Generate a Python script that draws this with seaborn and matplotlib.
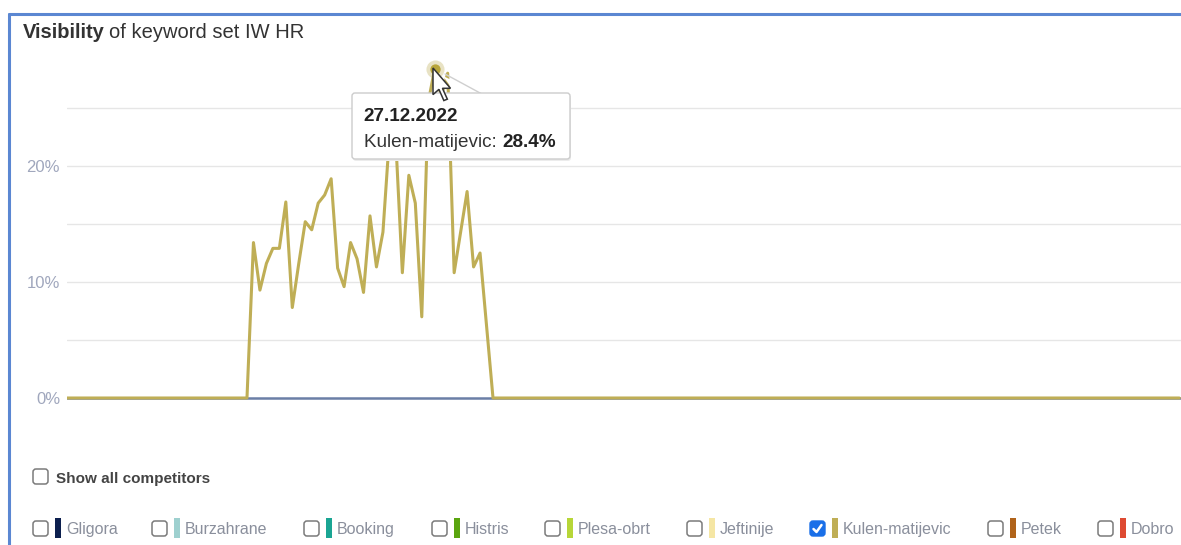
import pandas as pd
import matplotlib.pyplot as plt
import seaborn as sns
from matplotlib.transforms import Affine2D
from matplotlib.patches import FancyBboxPatch, Polygon, Rectangle
from matplotlib.lines import Line2D

# --- data (visibility in %) ---
start_date = '2022-10-31'
lead_zeros = [0.0] * 28
active_values = [0.0, 13.4, 9.3, 11.6, 12.9, 12.9, 16.9, 7.8, 11.6, 15.2,
                 14.5, 16.8, 17.5, 18.9, 11.2, 9.6, 13.4, 12.0, 9.1, 15.7,
                 11.3, 14.3, 22.5, 22.0, 10.8, 19.2, 16.8, 7.0, 25.5, 28.4,
                 26.0, 28.0, 10.8, 14.3, 17.8, 11.3, 12.5, 6.2, 0.0]
trail_zeros = [0.0] * 106
highlight_date = '2022-12-27'

yticks_major = [0, 10, 20]
yticks_grid = [5, 15, 25]

competitors = ['Gligora', 'Burzahrane', 'Booking', 'Histris', 'Plesa-obrt',
               'Jeftinije', 'Kulen-matijevic', 'Petek', 'Dobro']
comp_colors = ['#0c1f4e', '#9ed0cf', '#1aa593', '#5aa50f', '#b7d638',
               '#f5e6a4', '#bfae56', '#b0631a', '#de4a32']
comp_checked = [False, False, False, False, False, False, True, False, False]
legend_x = [33, 152, 304, 432, 545, 687, 810, 988, 1098]  # layout only

values = lead_zeros + active_values + trail_zeros
df = pd.DataFrame({'date': pd.date_range(start_date, periods=len(values), freq='D'),
                   'visibility': values})

GOLD = '#bfae56'
W, H = 1181, 545

sns.set_theme(style='white')
plt.rcParams['font.family'] = ['Liberation Sans', 'DejaVu Sans']

fig = plt.figure(figsize=(W / 100, H / 100), dpi=100)
# pixel coordinates, y measured from the top
px = Affine2D().scale(1 / 100, -1 / 100).translate(0, H / 100) + fig.dpi_scale_trans

# axes placed in pixels: x 67..1181, 0% at y=398, 11.6 px per %
ax_left, ax_right, ax_top = 67, W, 60
y0_px, ppu = 398, 11.6
ymin = -1.0
ymax = (y0_px - ax_top) / ppu
ax_bottom = y0_px - ymin * ppu
ax = fig.add_axes([ax_left / W, 1 - ax_bottom / H, (ax_right - ax_left) / W, (ax_bottom - ax_top) / H])

ax.axhline(0, color='#6b7fa6', lw=1.8, zorder=1)
sns.lineplot(data=df, x='date', y='visibility', color=GOLD, lw=2.2, ax=ax, zorder=3)

day0 = pd.Timestamp('2022-11-28')
ax.set_xlim(pd.Timestamp(start_date) + pd.Timedelta(days=0.2), day0 + pd.Timedelta(days=144.27))
ax.set_ylim(ymin, ymax)

ax.set_yticks(yticks_major)
ax.set_yticklabels([f'{v}%' for v in yticks_major])
ax.set_yticks(yticks_grid, minor=True)
for v in yticks_major[1:] + yticks_grid:
    ax.axhline(v, color='#e6e6e6', lw=1.0, zorder=0)
ax.tick_params(axis='y', which='both', length=0, pad=5, labelsize=12, labelcolor='#a0a7bd')
ax.set_xticks([])
ax.set_xlabel('')
ax.set_ylabel('')
for s in ax.spines.values():
    s.set_visible(False)
ax.patch.set_alpha(0)

# highlighted point
hl = df[df['date'] == pd.Timestamp(highlight_date)].iloc[0]
ax.scatter([hl['date']], [hl['visibility']], s=170, color=GOLD, alpha=0.35, zorder=4, lw=0)
ax.scatter([hl['date']], [hl['visibility']], s=55, color='#b8a53a', zorder=5, lw=0)

# widget border
fig.add_artist(Line2D([8.5, W + 5], [13.5, 13.5], transform=px, color='#5b87d2', lw=2.2))
fig.add_artist(Line2D([8.5, 8.5], [13.5, H + 5], transform=px, color='#5b87d2', lw=2.2))

# title
renderer = fig.canvas.get_renderer()
t_a = fig.text(23, 38, 'Visibility', transform=px, fontsize=14.5, fontweight='bold',
               color='#333333', va='baseline')
bb = t_a.get_window_extent(renderer)
fig.text(bb.x1 + 4, 38, 'of keyword set IW HR', transform=px, fontsize=14.5,
         color='#333333', va='baseline')

# tooltip callout + box
fig.add_artist(Polygon([[456, 94], [443, 76], [481, 94]], closed=True, transform=px,
                       facecolor='white', edgecolor='none', zorder=5))
fig.add_artist(Line2D([445, 481], [74, 93.5], transform=px, color='#cfcfcf', lw=1.0, zorder=6))
fig.add_artist(FancyBboxPatch((353, 95), 218, 66, boxstyle='round,pad=0,rounding_size=3',
                              transform=px, facecolor='#ececec', edgecolor='none', zorder=5))
fig.add_artist(FancyBboxPatch((352, 93), 218, 66, boxstyle='round,pad=0,rounding_size=3',
                              transform=px, facecolor='white', edgecolor='#cccccc', lw=1.0, zorder=6))
fig.text(363, 121, hl['date'].strftime('%d.%m.%Y'), transform=px, fontsize=13.6,
         fontweight='bold', color='#222222', va='baseline', zorder=7)
t_k = fig.text(364, 147, 'Kulen-matijevic: ', transform=px, fontsize=13.6,
               color='#333333', va='baseline', zorder=7)
bb = t_k.get_window_extent(renderer)
fig.text(bb.x1, 147, f"{hl['visibility']:.1f}%", transform=px, fontsize=13.6,
         fontweight='bold', color='#222222', va='baseline', zorder=7)

# mouse cursor
cx, cy, cs = 433, 68, 35
shape = [(0, 0), (0, 0.76), (0.17, 0.61), (0.31, 0.93), (0.41, 0.89), (0.27, 0.58), (0.5, 0.58)]
fig.add_artist(Polygon([[cx + a * cs, cy + b * cs] for a, b in shape], closed=True,
                       transform=px, facecolor='white', edgecolor='#333333', lw=1.1, zorder=8))


def checkbox(x, y, checked=False):
    if checked:
        fig.add_artist(FancyBboxPatch((x, y), 15, 15, boxstyle='round,pad=0,rounding_size=3',
                                      transform=px, facecolor='#1a6fe8', edgecolor='#1a6fe8',
                                      lw=1.0, zorder=6))
        fig.add_artist(Line2D([x + 3.5, x + 6.5, x + 11.5], [y + 8, y + 11, y + 4],
                              transform=px, color='white', lw=1.8, zorder=7))
    else:
        fig.add_artist(FancyBboxPatch((x, y), 15, 15, boxstyle='round,pad=0,rounding_size=3',
                                      transform=px, facecolor='white', edgecolor='#7a7a7a',
                                      lw=1.1, zorder=6))


checkbox(33, 469)
fig.text(56, 483, 'Show all competitors', transform=px, fontsize=11, fontweight='bold',
         color='#444444', va='baseline')

for name, col, chk, x in zip(competitors, comp_colors, comp_checked, legend_x):
    checkbox(x, 521, chk)
    fig.add_artist(Rectangle((x + 22, 518), 6, 20, transform=px, facecolor=col,
                             edgecolor='none', zorder=6))
    fig.text(x + 33, 534, name, transform=px, fontsize=11.5, color='#8a8f9c', va='baseline')

fig.savefig('out.png', dpi=100)
